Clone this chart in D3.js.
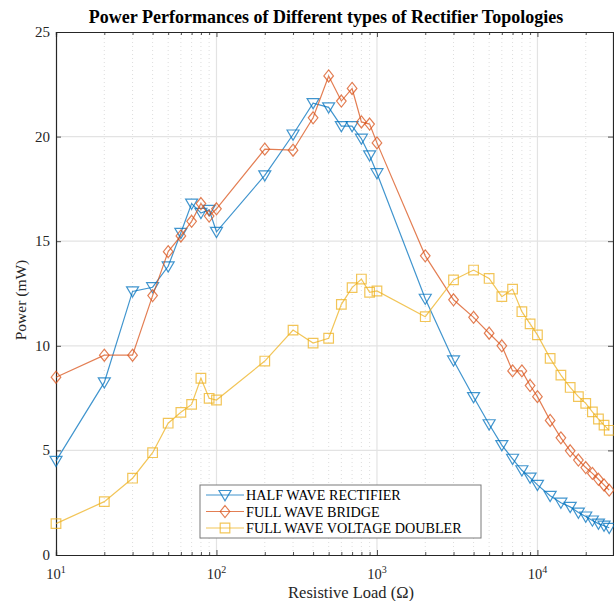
<!DOCTYPE html>
<html>
<head>
<meta charset="utf-8">
<script src="https://cdn.jsdelivr.net/npm/d3@7"></script>
<style>
  body { margin: 0; background: #fff; }
  text { font-family: "Liberation Serif", "Times New Roman", serif; }
</style>
</head>
<body>
<script>
// resistive load values (ohm)
var loads = [10, 20, 30, 40, 50, 60, 70, 80, 90, 100,
  200, 300, 400, 500, 600, 700, 800, 900, 1000,
  2000, 3000, 4000, 5000, 6000, 7000, 8000, 9000, 10000,
  12000, 14000, 16000, 18000, 20000, 22000, 24000, 26000, 28000];

// power (mW)
var halfWave = [4.5, 8.25, 12.6, 12.8, 13.8, 15.4, 16.8, 16.35, 16.5, 15.45,
  18.15, 20.1, 21.6, 21.4, 20.5, 20.5, 19.9, 19.1, 18.25,
  12.25, 9.3, 7.55, 6.25, 5.25, 4.6, 4.05, 3.7, 3.35,
  2.83, 2.5, 2.3, 2.03, 1.84, 1.65, 1.5, 1.4, 1.3];

var fullBridge = [8.5, 9.55, 9.55, 12.4, 14.5, 15.25, 15.95, 16.8, 16.2, 16.55,
  19.4, 19.35, 20.9, 22.9, 21.7, 22.3, 20.7, 20.6, 19.7,
  14.3, 12.2, 11.36, 10.6, 10.0, 8.8, 8.8, 8.1, 7.57,
  6.43, 5.6, 4.98, 4.54, 4.18, 3.9, 3.62, 3.35, 3.1];

var voltDoubler = [1.5, 2.55, 3.67, 4.89, 6.3, 6.82, 7.2, 8.45, 7.49, 7.41,
  9.27, 10.75, 10.13, 10.36, 11.98, 12.78, 13.19, 12.56, 12.62,
  11.39, 13.15, 13.62, 13.22, 12.35, 12.71, 11.63, 11.05, 10.52,
  9.4, 8.6, 8.01, 7.57, 7.25, 6.84, 6.5, 6.21, 5.96];

var seriesNames = ["HALF WAVE RECTIFIER", "FULL WAVE BRIDGE", "FULL WAVE VOLTAGE DOUBLER"];
var yTicks = [0, 5, 10, 15, 20, 25];

var colors = ["#0072BD", "#D95319", "#EDB120"];
var markers = ["tri", "diamond", "square"];

var W = 614, H = 601;
var margin = {left: 56, top: 32, right: 0, bottom: 46};

var svg = d3.select("body").append("svg")
  .attr("width", W)
  .attr("height", H);

var x = d3.scaleLog().domain([10, 30000]).range([margin.left, W - margin.right]);
var y = d3.scaleLinear().domain([0, 25]).range([H - margin.bottom, margin.top]);

var x0 = x.range()[0], x1 = x.range()[1];
var y0 = y.range()[0], y1 = y.range()[1];

// minor / major x ticks
var majorX = [10, 100, 1000, 10000];
var minorX = [];
for (var dec = 10; dec <= 10000; dec *= 10) {
  for (var k = 2; k <= 9; k++) {
    if (dec * k <= 30000) minorX.push(dec * k);
  }
}

var grid = svg.append("g");
grid.selectAll(".minor")
  .data(minorX)
  .enter().append("line")
  .attr("x1", function(d) { return x(d); })
  .attr("x2", function(d) { return x(d); })
  .attr("y1", y0).attr("y2", y1)
  .attr("stroke", "#d4d4d4")
  .attr("stroke-width", 0.8)
  .attr("stroke-dasharray", "1,3");

grid.selectAll(".majx")
  .data(majorX.slice(1))
  .enter().append("line")
  .attr("x1", function(d) { return x(d); })
  .attr("x2", function(d) { return x(d); })
  .attr("y1", y0).attr("y2", y1)
  .attr("stroke", "#e3e3e3")
  .attr("stroke-width", 1.2);

grid.selectAll(".majy")
  .data(yTicks.slice(1, -1))
  .enter().append("line")
  .attr("x1", x0).attr("x2", x1)
  .attr("y1", function(d) { return y(d); })
  .attr("y2", function(d) { return y(d); })
  .attr("stroke", "#e3e3e3")
  .attr("stroke-width", 1.2);

// axes (ticks pointing inward, box)
var axisColor = "#262626";
var xBottom = d3.axisBottom(x).tickValues(majorX).tickSize(-5).tickFormat("");
var xBottomMinor = d3.axisBottom(x).tickValues(minorX).tickSize(-3).tickFormat("");
var xTop = d3.axisTop(x).tickValues(majorX).tickSize(-5).tickFormat("");
var xTopMinor = d3.axisTop(x).tickValues(minorX).tickSize(-3).tickFormat("");
var yLeft = d3.axisLeft(y).tickValues(yTicks).tickSize(-5).tickFormat("");
var yRight = d3.axisRight(y).tickValues(yTicks).tickSize(-5).tickFormat("");

function styleAxis(g) {
  g.selectAll("path").attr("stroke", axisColor).attr("stroke-width", 1.2);
  g.selectAll("line").attr("stroke", axisColor).attr("stroke-width", 0.8);
}

svg.append("g").attr("transform", "translate(0," + y0 + ")").call(xBottomMinor).call(styleAxis);
svg.append("g").attr("transform", "translate(0," + y0 + ")").call(xBottom).call(styleAxis);
svg.append("g").attr("transform", "translate(0," + y1 + ")").call(xTopMinor).call(styleAxis);
svg.append("g").attr("transform", "translate(0," + y1 + ")").call(xTop).call(styleAxis);
svg.append("g").attr("transform", "translate(" + x0 + ",0)").call(yLeft).call(styleAxis);
svg.append("g").attr("transform", "translate(" + (x1 - 1) + ",0)").call(yRight).call(styleAxis);

// tick labels
svg.selectAll(".ylab")
  .data(yTicks)
  .enter().append("text")
  .attr("x", x0 - 6)
  .attr("y", function(d) { return y(d) + 5; })
  .attr("text-anchor", "end")
  .attr("font-size", 15)
  .attr("fill", "#262626")
  .text(function(d) { return d; });

var xl = svg.selectAll(".xlab")
  .data(majorX)
  .enter().append("text")
  .attr("x", function(d) { return x(d); })
  .attr("y", y0 + 24)
  .attr("text-anchor", "middle")
  .attr("font-size", 14.5)
  .attr("fill", "#262626");
xl.append("tspan").text("10");
xl.append("tspan")
  .attr("dy", -6)
  .attr("font-size", 10)
  .text(function(d) { return Math.round(Math.log10(d)); });

// axis titles
svg.append("text")
  .attr("x", 351)
  .attr("y", 598)
  .attr("text-anchor", "middle")
  .attr("font-size", 16.5)
  .attr("fill", "#262626")
  .text("Resistive Load (\u03A9)");

svg.append("text")
  .attr("transform", "translate(26,300) rotate(-90)")
  .attr("text-anchor", "middle")
  .attr("font-size", 15.5)
  .attr("fill", "#262626")
  .text("Power (mW)");

svg.append("text")
  .attr("x", 326)
  .attr("y", 23)
  .attr("text-anchor", "middle")
  .attr("font-size", 18)
  .attr("font-weight", "bold")
  .attr("fill", "#000")
  .text("Power Performances of Different types of Rectifier Topologies");

// markers
function markerPath(type, s) {
  if (type == "tri") {
    return "M" + (-s) + "," + (-s * 0.75) + "L" + s + "," + (-s * 0.75) + "L0," + (s * 0.95) + "Z";
  } else if (type == "diamond") {
    return "M0," + (-s) + "L" + (s * 0.8) + ",0L0," + s + "L" + (-s * 0.8) + ",0Z";
  } else {
    var q = s * 0.8;
    return "M" + (-q) + "," + (-q) + "H" + q + "V" + q + "H" + (-q) + "Z";
  }
}

var allSeries = [halfWave, fullBridge, voltDoubler];
var line = d3.line()
  .x(function(d, i) { return x(loads[i]); })
  .y(function(d) { return y(d); });

var plot = svg.append("g");
allSeries.forEach(function(vals, si) {
  plot.append("path")
    .datum(vals)
    .attr("d", line)
    .attr("fill", "none")
    .attr("stroke", colors[si])
    .attr("stroke-opacity", 0.75)
    .attr("stroke-width", 1.2);

  plot.selectAll(".m" + si)
    .data(vals)
    .enter().append("path")
    .attr("transform", function(d, i) { return "translate(" + x(loads[i]) + "," + y(d) + ")"; })
    .attr("d", markerPath(markers[si], 6))
    .attr("fill", "none")
    .attr("stroke", colors[si])
    .attr("stroke-opacity", 0.75)
    .attr("stroke-width", 1.2);
});

// legend
var lg = svg.append("g").attr("transform", "translate(200,485)");
lg.append("rect")
  .attr("width", 281).attr("height", 53)
  .attr("fill", "#fff")
  .attr("stroke", "#7a7a7a")
  .attr("stroke-width", 1);

seriesNames.forEach(function(name, i) {
  var ly = 10 + i * 16.5;
  lg.append("line")
    .attr("x1", 6).attr("x2", 44)
    .attr("y1", ly).attr("y2", ly)
    .attr("stroke", colors[i])
    .attr("stroke-opacity", 0.75)
    .attr("stroke-width", 1.2);
  lg.append("path")
    .attr("transform", "translate(25," + ly + ")")
    .attr("d", markerPath(markers[i], 6))
    .attr("fill", "none")
    .attr("stroke", colors[i])
    .attr("stroke-opacity", 0.75)
    .attr("stroke-width", 1.2);
  lg.append("text")
    .attr("x", 46)
    .attr("y", ly + 5)
    .attr("font-size", 14.2)
    .attr("fill", "#000")
    .text(name);
});
</script>
</body>
</html>
